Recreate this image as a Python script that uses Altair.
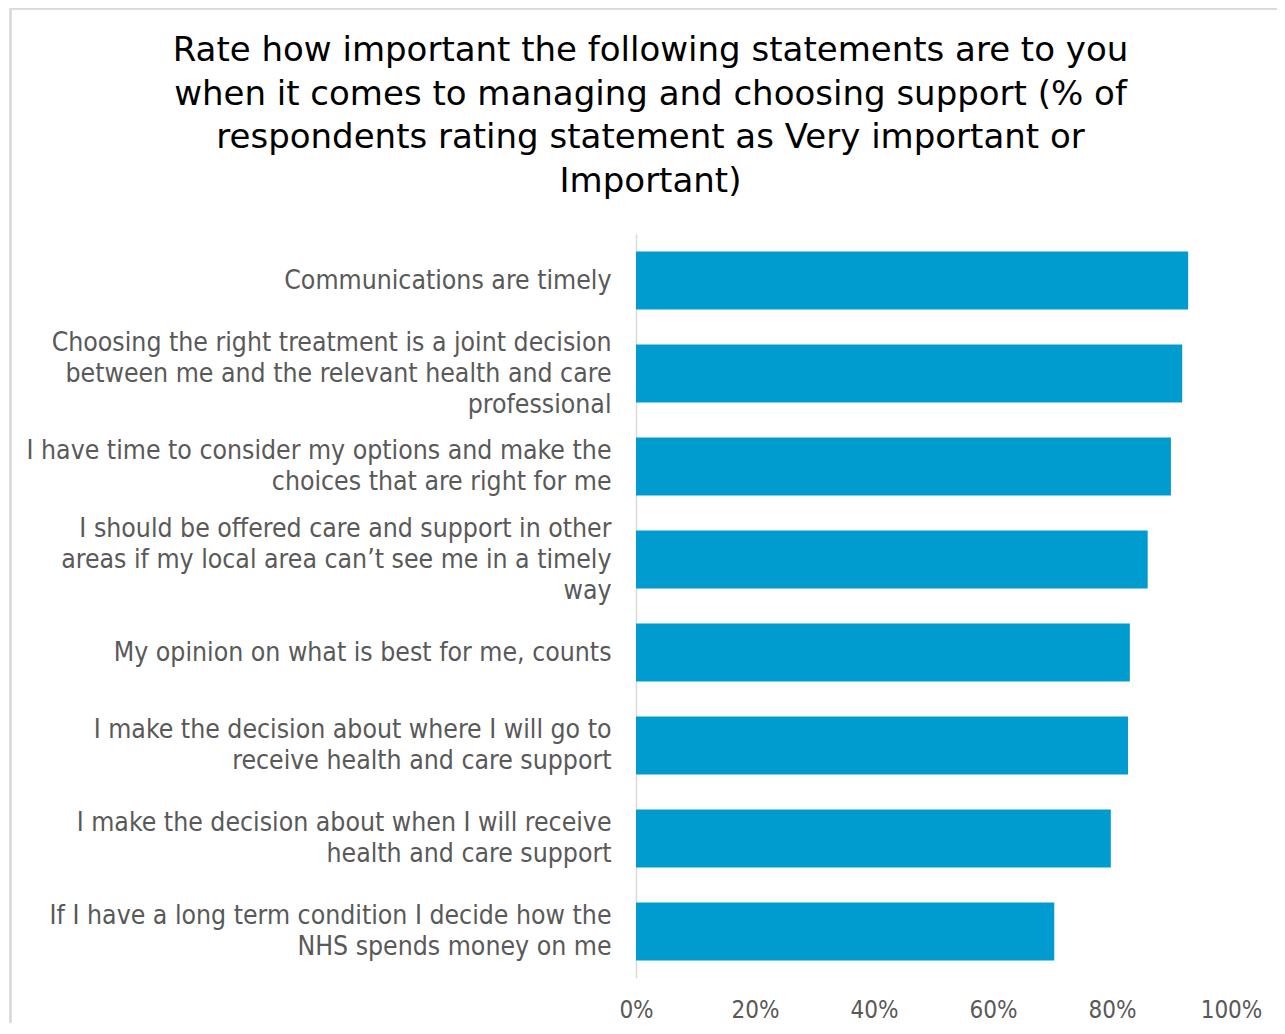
import altair as alt
import pandas as pd

categories = [
    "Communications are timely",
    "Choosing the right treatment is a joint decision|between me and the relevant health and care|professional",
    "I have time to consider my options and make the|choices that are right for me",
    "I should be offered care and support in other|areas if my local area can\u2019t see me in a timely|way",
    "My opinion on what is best for me, counts",
    "I make the decision about where I will go to|receive health and care support",
    "I make the decision about when I will receive|health and care support",
    "If I have a long term condition I decide how the|NHS spends money on me",
]
values = [0.928, 0.918, 0.899, 0.860, 0.830, 0.827, 0.798, 0.703]
x_ticks = [0, 0.2, 0.4, 0.6, 0.8, 1.0]
title_lines = [
    "Rate how important the following statements are to you",
    "when it comes to managing and choosing support (% of",
    "respondents rating statement as Very important or",
    "Important)",
]

df = pd.DataFrame({"statement": categories, "pct": values})

FONT = "DejaVu Sans Condensed, DejaVu Sans"
TITLE_FONT = "DejaVu Sans"
LABEL_COLOR = "#595959"
LINE_COLOR = "#D9D9D9"
LINE_H = 31

nlines = "length(split(datum.label, '|'))"

bars = alt.Chart(df).mark_bar(color="#009CD0").encode(
    y=alt.Y(
        "statement:N",
        sort=None,
        scale=alt.Scale(paddingInner=0.376, paddingOuter=0.188),
        axis=alt.Axis(
            title=None,
            labelExpr="split(datum.label, '|')",
            labelFontSize=26.4,
            labelColor=LABEL_COLOR,
            labelFont=FONT,
            labelLineHeight=LINE_H,
            labelPadding=25,
            labelLimit=800,
            labelOffset={
                "condition": [
                    {"test": f"{nlines} == 3", "value": -LINE_H},
                    {"test": f"{nlines} == 2", "value": -LINE_H / 2},
                ],
                "value": 0,
            },
            ticks=False,
            domainColor=LINE_COLOR,
            domainWidth=1.5,
        ),
    ),
    x=alt.X(
        "pct:Q",
        scale=alt.Scale(domain=[0, 1]),
        axis=alt.Axis(
            title=None,
            format=".0%",
            values=x_ticks,
            grid=False,
            ticks=False,
            domain=False,
            labelFlush=False,
            labelFontSize=24,
            labelColor=LABEL_COLOR,
            labelFont=FONT,
            labelPadding=20,
        ),
    ),
)

frame_left = alt.Chart(df).mark_rule(color=LINE_COLOR, strokeWidth=1.5).encode(
    x=alt.value(-625.5), y=alt.value(-225.5), y2=alt.value(800)
)
frame_top = alt.Chart(df).mark_rule(color=LINE_COLOR, strokeWidth=1.5).encode(
    x=alt.value(-625.5), x2=alt.value(700), y=alt.value(-225.5)
)

chart = alt.layer(bars, frame_left, frame_top).properties(
    width=595,
    height=744,
    autosize=alt.AutoSizeParams(type="none"),
    padding={"left": 628, "top": 226, "right": 46, "bottom": 45},
    title=alt.Title(
        title_lines,
        fontSize=34,
        font=TITLE_FONT,
        color="#000000",
        fontWeight="normal",
        lineHeight=43.5,
        anchor="middle",
        frame="group",
        dx=-283,
        offset=-191,
    ),
).configure_view(stroke=None)

chart.save("out.html", embed_options={"renderer": "svg", "actions": False})
